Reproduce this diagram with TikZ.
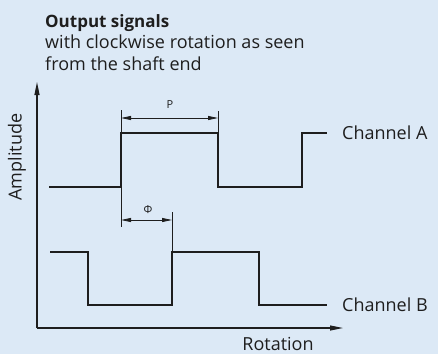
\documentclass[tikz,border=0pt]{standalone}
\usepackage{fontspec}
\setmainfont{Open Sans}
\usetikzlibrary{arrows.meta}
\definecolor{bgblue}{RGB}{220,233,246}
\definecolor{ink}{RGB}{30,30,30}
\begin{document}
\begin{tikzpicture}[x=1pt,y=-1pt,
  sig/.style={draw=ink,line width=1.3pt,line join=miter},
  ext/.style={draw=ink,line width=1pt},
  axis/.style={draw=ink,line width=1.1pt,-{Triangle[length=13pt,width=5pt]}},
  dim/.style={draw=ink,line width=0.8pt,{Triangle[length=10pt,width=4pt]}-{Triangle[length=10pt,width=4pt]}},
  lab/.style={text=ink,font=\fontsize{18}{21}\selectfont,inner sep=0pt},
  small/.style={text=ink,font=\fontsize{11}{13}\selectfont,inner sep=0pt}]
\fill[bgblue] (0,0) rectangle (438,354);
\useasboundingbox (0,0) rectangle (438,354);
% title
\node[lab,anchor=base west,font=\fontsize{17}{20}\selectfont\bfseries] (t1) at (45,27) {Output signals};
\node[lab,anchor=base west] (t2) at (45,48) {with clockwise rotation as seen};
\node[lab,anchor=base west] (t3) at (45,70) {from the shaft end};
% axes
\coordinate (O) at (37,328);
\coordinate (Ytip) at (37,82);
\coordinate (Xtip) at (343,328);
\draw[axis] (O) -- (Ytip);
\draw[axis] (O) -- (Xtip);
\node[lab,rotate=90] (amp) at (17,157) {Amplitude};
\node[lab,anchor=base] (rot) at (278,350.5) {Rotation};
% channel A
\draw[sig] (49,187) -- (121,187) -- (121,133) -- (218,133) -- (218,187) -- (302,187) -- (302,133) -- (327,133);
\node[lab,anchor=west] (chA) at (342,133) {Channel A};
% channel B
\draw[sig] (50,252) -- (88,252) -- (88,305) -- (172,305) -- (172,252) -- (259,252) -- (259,305) -- (327,305);
\node[lab,anchor=west] (chB) at (342,305) {Channel B};
% extension lines
\coordinate (e1a) at (121,110);
\coordinate (e1b) at (121,227);
\coordinate (e2a) at (218,111);
\coordinate (e2b) at (218,133);
\coordinate (e3a) at (172,212);
\coordinate (e3b) at (172,252);
\draw[ext] (e1a) -- (e1b);
\draw[ext] (e2a) -- (e2b);
\draw[ext] (e3a) -- (e3b);
% dimensions
\coordinate (pL) at (121,118);
\coordinate (pR) at (218,118);
\draw[dim] (pL) -- (pR);
\node[small] (P) at (170,105) {P};
\coordinate (fL) at (121,220);
\coordinate (fR) at (172,220);
\draw[dim] (fL) -- (fR);
\node[small] (phi) at (148,210) {Φ};
\end{tikzpicture}
\end{document}
